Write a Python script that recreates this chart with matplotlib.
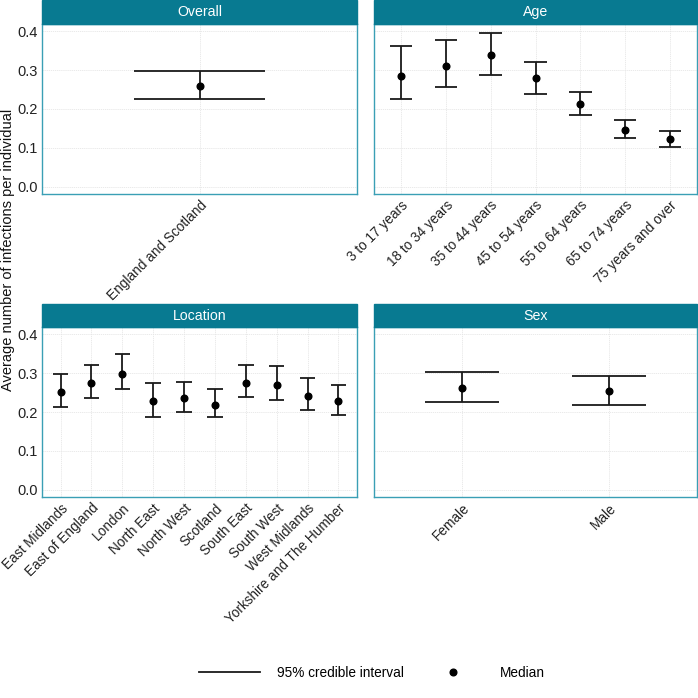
import matplotlib
matplotlib.use("Agg")
import matplotlib.pyplot as plt
from matplotlib.lines import Line2D
from matplotlib.patches import Rectangle

# ---- data ----------------------------------------------------------------- #
overall_cats = ["England and Scotland"]
overall_med = [0.258]
overall_lo = [0.225]
overall_hi = [0.297]

age_cats = ["3 to 17 years", "18 to 34 years", "35 to 44 years", "45 to 54 years",
            "55 to 64 years", "65 to 74 years", "75 years and over"]
age_med = [0.285, 0.311, 0.338, 0.279, 0.214, 0.147, 0.122]
age_lo = [0.225, 0.256, 0.288, 0.238, 0.185, 0.126, 0.103]
age_hi = [0.362, 0.377, 0.395, 0.321, 0.245, 0.171, 0.144]

loc_cats = ["East Midlands", "East of England", "London", "North East", "North West",
            "Scotland", "South East", "South West", "West Midlands",
            "Yorkshire and The Humber"]
loc_med = [0.251, 0.275, 0.299, 0.228, 0.237, 0.219, 0.276, 0.270, 0.242, 0.228]
loc_lo = [0.212, 0.235, 0.258, 0.188, 0.201, 0.186, 0.239, 0.232, 0.204, 0.192]
loc_hi = [0.297, 0.322, 0.349, 0.275, 0.278, 0.259, 0.322, 0.318, 0.287, 0.269]

sex_cats = ["Female", "Male"]
sex_med = [0.262, 0.254]
sex_lo = [0.227, 0.219]
sex_hi = [0.303, 0.292]

STRIP = "#087a91"
BORDER = "#3a9fb5"
INK = "#1a1a1a"

plt.rcParams["font.family"] = ["Liberation Sans", "DejaVu Sans"]
plt.rcParams["font.size"] = 9.8

W = H = 698
fig = plt.figure(figsize=(6.98, 6.98), dpi=100)


def px_axes(left, top, right, bottom):
    return fig.add_axes([left / W, 1 - bottom / H, (right - left) / W, (bottom - top) / H])


def panel(ax, title, cats, med, lo, hi, show_y, strip_px):
    n = len(cats)
    x = list(range(n))
    ax.vlines(x, lo, hi, color=INK, lw=1.3, zorder=3)
    ax.hlines(lo, [i - 0.25 for i in x], [i + 0.25 for i in x], color=INK, lw=1.3, zorder=3)
    ax.hlines(hi, [i - 0.25 for i in x], [i + 0.25 for i in x], color=INK, lw=1.3, zorder=3)
    ax.plot(x, med, "o", color="black", ms=4.8, zorder=4)
    ax.set_xlim(-0.6, n - 1 + 0.6)
    ax.set_ylim(-0.019, 0.419)
    ax.set_yticks([0.0, 0.1, 0.2, 0.3, 0.4])
    ax.set_xticks(x)
    ax.set_xticklabels(cats, rotation=45, ha="right", va="top", rotation_mode="anchor",
                       fontsize=9.8)
    if show_y:
        ax.set_yticklabels(["0.0", "0.1", "0.2", "0.3", "0.4"], fontsize=10.5)
    else:
        ax.set_yticklabels([])
    ax.tick_params(length=0, pad=3, colors="#222222")
    ax.grid(True, color="#e6e6e6", lw=0.6, ls=(0, (1.5, 1)))
    ax.set_axisbelow(True)
    for sp in ax.spines.values():
        sp.set_color(BORDER)
        sp.set_linewidth(1.0)
    hfrac = strip_px / (ax.get_position().height * H)
    ax.add_patch(Rectangle((0, 1), 1, hfrac, transform=ax.transAxes, facecolor=STRIP,
                           edgecolor=STRIP, clip_on=False, zorder=5))
    ax.text(0.5, 1 + hfrac / 2, title, transform=ax.transAxes, ha="center", va="center",
            color="white", fontsize=10.2, zorder=6)


ax1 = px_axes(42, 24, 357, 194)
ax2 = px_axes(374, 24, 697, 194)
ax3 = px_axes(42, 327, 357, 497)
ax4 = px_axes(374, 327, 697, 497)

panel(ax1, "Overall", overall_cats, overall_med, overall_lo, overall_hi, True, 24)
panel(ax2, "Age", age_cats, age_med, age_lo, age_hi, False, 24)
panel(ax3, "Location", loc_cats, loc_med, loc_lo, loc_hi, True, 23)
panel(ax4, "Sex", sex_cats, sex_med, sex_lo, sex_hi, False, 23)

fig.text(8 / W, 1 - 250 / H, "Average number of infections per individual",
         rotation=90, ha="center", va="center", fontsize=10.5, color="#111111")

handles = [Line2D([], [], color=INK, lw=1.3),
           Line2D([], [], color="black", marker="o", ls="none", ms=4.8)]
fig.legend(handles, ["95% credible interval", "Median"], loc="center",
           bbox_to_anchor=(372 / W, 1 - 673 / H), ncol=2, frameon=False,
           handlelength=4.5, handletextpad=1.2, columnspacing=1.4, fontsize=9.8)

fig.savefig("out.png", dpi=100)
